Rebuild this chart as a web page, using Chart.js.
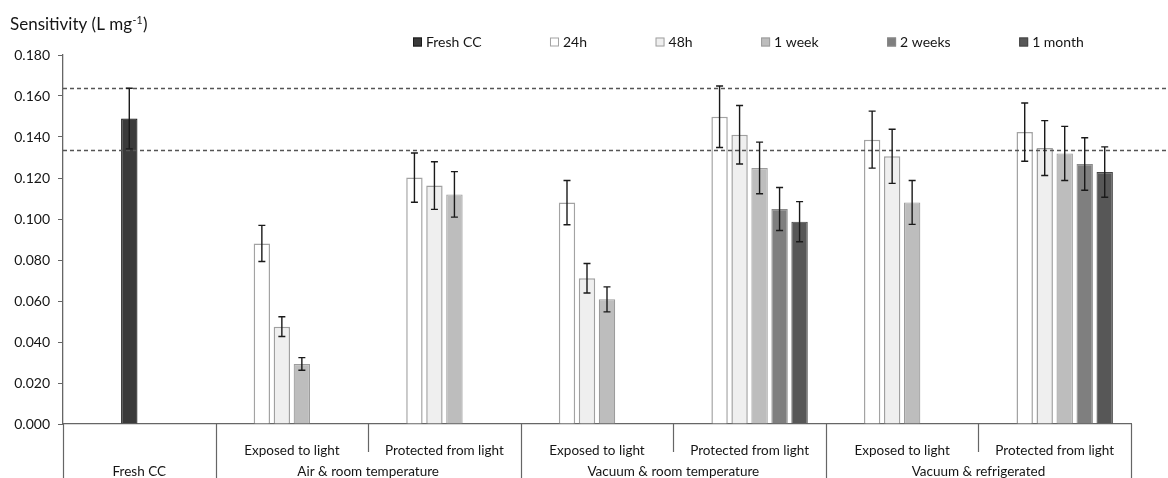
<!DOCTYPE html>
<html><head><meta charset="utf-8">
<script src="https://cdn.jsdelivr.net/npm/chart.js@4.4.1/dist/chart.umd.min.js"></script>
<style>html,body{margin:0;padding:0;background:#fff}#wrap{width:1168px;height:478px;position:relative}</style>
</head><body><div id="wrap"><canvas id="c"></canvas></div>
<script>
// ---- data ----
const subCategories = ['', 'Exposed to light', 'Protected from light', 'Exposed to light', 'Protected from light', 'Exposed to light', 'Protected from light'];
const groupLabels = ['Fresh CC', 'Air & room temperature', 'Vacuum & room temperature', 'Vacuum & refrigerated'];
const groupSpans = [1, 2, 2, 2];
const seriesNames = ['Fresh CC', '24h', '48h', '1 week', '2 weeks', '1 month'];

const freshCC    = [0.149, null, null, null, null, null, null];
const freshCCErr = [0.0148, null, null, null, null, null, null];
const h24        = [null, 0.0881, 0.1202, 0.1080, 0.1499, 0.1387, 0.1424];
const h24Err     = [null, 0.0088, 0.0120, 0.0108, 0.0150, 0.0139, 0.0142];
const h48        = [null, 0.0475, 0.1163, 0.0711, 0.1411, 0.1306, 0.1346];
const h48Err     = [null, 0.0048, 0.0116, 0.0072, 0.0143, 0.0132, 0.0134];
const week1      = [null, 0.0293, 0.1120, 0.0608, 0.1249, 0.1081, 0.1320];
const week1Err   = [null, 0.0031, 0.0111, 0.0061, 0.0126, 0.0107, 0.0132];
const weeks2     = [null, null, null, null, 0.1049, null, 0.1268];
const weeks2Err  = [null, null, null, null, 0.0105, null, 0.0128];
const month1     = [null, null, null, null, 0.0987, null, 0.1229];
const month1Err  = [null, null, null, null, 0.0098, null, 0.0123];

const referenceLines = [0.1637, 0.1337];
const yTicks = [0.000, 0.020, 0.040, 0.060, 0.080, 0.100, 0.120, 0.140, 0.160, 0.180];
const yTitle = 'Sensitivity (L mg';
const yTitleSup = '-1';

// ---- styles ----
const FONT = 'Lato, "Open Sans", sans-serif';
const TEXT = '#151515';
const AXIS = '#666666';

function series(label, data, errors, stack, bg, border, bw) {
  return { label, data, errors, stack, backgroundColor: bg, borderColor: border, borderWidth: bw,
           barPercentage: 0.82, categoryPercentage: 0.7865 };
}

const decor = {
  id: 'decor',
  afterDatasetsDraw(chart) {
    const { ctx, chartArea, scales: { y } } = chart;
    ctx.save();
    ctx.strokeStyle = '#555555'; ctx.lineWidth = 1.5; ctx.setLineDash([4, 3]);
    referenceLines.forEach(v => {
      const py = Math.round(y.getPixelForValue(v)) + 0.5;
      ctx.beginPath(); ctx.moveTo(chartArea.left, py); ctx.lineTo(chart.width, py); ctx.stroke();
    });
    ctx.restore();
    ctx.save();
    ctx.strokeStyle = '#1a1a1a'; ctx.lineWidth = 1.4;
    chart.data.datasets.forEach((ds, di) => {
      if (!ds.errors) return;
      const meta = chart.getDatasetMeta(di);
      ds.data.forEach((v, i) => {
        if (v == null || ds.errors[i] == null) return;
        const px = meta.data[i].x;
        const t = y.getPixelForValue(v + ds.errors[i]);
        const b = y.getPixelForValue(v - ds.errors[i]);
        ctx.beginPath();
        ctx.moveTo(px, t); ctx.lineTo(px, b);
        ctx.moveTo(px - 3.5, t); ctx.lineTo(px + 3.5, t);
        ctx.moveTo(px - 3.5, b); ctx.lineTo(px + 3.5, b);
        ctx.stroke();
      });
    });
    ctx.restore();
  },
  afterDraw(chart) {
    const { ctx, chartArea, scales: { x } } = chart;
    const n = subCategories.length;
    const boundary = k => k === 0 ? chartArea.left : k === n ? chartArea.right
      : (x.getPixelForValue(k - 1) + x.getPixelForValue(k)) / 2;
    const groupEdges = [0];
    groupSpans.forEach(s => groupEdges.push(groupEdges[groupEdges.length - 1] + s));
    ctx.save();
    ctx.strokeStyle = AXIS; ctx.lineWidth = 1.2;
    for (let k = 0; k <= n; k++) {
      const px = Math.round(boundary(k)) + 0.5;
      const isGroup = groupEdges.includes(k);
      ctx.beginPath();
      ctx.moveTo(px, chartArea.bottom);
      ctx.lineTo(px, isGroup ? chart.height : chartArea.bottom + 28);
      ctx.stroke();
    }
    // group labels
    ctx.fillStyle = TEXT; ctx.font = '13.5px ' + FONT;
    ctx.textAlign = 'center'; ctx.textBaseline = 'middle';
    groupLabels.forEach((g, i) => {
      const cx = (boundary(groupEdges[i]) + boundary(groupEdges[i + 1])) / 2;
      ctx.fillText(g, cx, chartArea.bottom + 47.5);
    });
    // axis title
    ctx.textAlign = 'left'; ctx.textBaseline = 'alphabetic';
    ctx.font = '17px ' + FONT;
    let tx = 10;
    ctx.fillText(yTitle, tx, 30); tx += ctx.measureText(yTitle).width + 0.5;
    ctx.font = '10.5px ' + FONT;
    ctx.fillText(yTitleSup, tx, 24); tx += ctx.measureText(yTitleSup).width + 0.5;
    ctx.font = '17px ' + FONT;
    ctx.fillText(')', tx, 30);
    // legend
    ctx.font = '14px ' + FONT; ctx.textBaseline = 'middle';
    let lx = 413; const ly = 42;
    seriesNames.forEach(name => {
      const ds = chart.data.datasets.find(d => d.label === name);
      ctx.fillStyle = ds.backgroundColor; ctx.strokeStyle = ds.borderColor; ctx.lineWidth = 1;
      ctx.fillRect(lx, ly - 4.5, 9, 9); ctx.strokeRect(lx + 0.5, ly - 4, 8, 8);
      ctx.fillStyle = TEXT;
      ctx.fillText(name, lx + 13, ly);
      lx += 13 + ctx.measureText(name).width + 68.5;
    });
    ctx.restore();
  }
};

new Chart(document.getElementById('c'), {
  type: 'bar',
  data: {
    labels: subCategories,
    datasets: [
      { label: '', data: [], stack: 's0', barPercentage: 0.82, categoryPercentage: 0.7865 },
      series('24h', h24, h24Err, 's1', '#ffffff', '#a3a3a3', 1.5),
      series('Fresh CC', freshCC, freshCCErr, 's2', '#3a3a3a', '#1a1a1a', 1.2),
      series('48h', h48, h48Err, 's2', '#efefef', '#a0a0a0', 1.5),
      series('1 week', week1, week1Err, 's3', '#bdbdbd', '#9c9c9c', 1.2),
      series('2 weeks', weeks2, weeks2Err, 's4', '#7f7f7f', '#8a8a8a', 1.2),
      series('1 month', month1, month1Err, 's5', '#575757', '#474747', 1.2)
    ]
  },
  options: {
    responsive: true, maintainAspectRatio: false, animation: false,
    layout: { padding: { top: 55, right: 37, bottom: 0, left: 0 } },
    plugins: { legend: { display: false }, title: { display: false }, tooltip: { enabled: false } },
    scales: {
      x: {
        stacked: true, offset: true,
        grid: { display: false },
        border: { display: true, color: AXIS, width: 1.3 },
        ticks: { autoSkip: false, maxRotation: 0, minRotation: 0, padding: 11, color: TEXT,
                 font: { family: FONT, size: 13.5 } },
        afterFit: s => { s.height = 54; }
      },
      y: {
        stacked: true, min: 0, max: 0.18,
        afterBuildTicks: s => { s.ticks = yTicks.map(v => ({ value: v })); },
        grid: { drawOnChartArea: false, drawTicks: true, tickLength: 5, color: AXIS, tickColor: AXIS },
        border: { display: true, color: AXIS, width: 1.3 },
        ticks: { padding: 8, color: TEXT, font: { family: FONT, size: 14 },
                 callback: v => Number(v).toFixed(3) },
        afterFit: s => { s.width = 63; }
      }
    }
  },
  plugins: [decor]
});
</script>
</body></html>
